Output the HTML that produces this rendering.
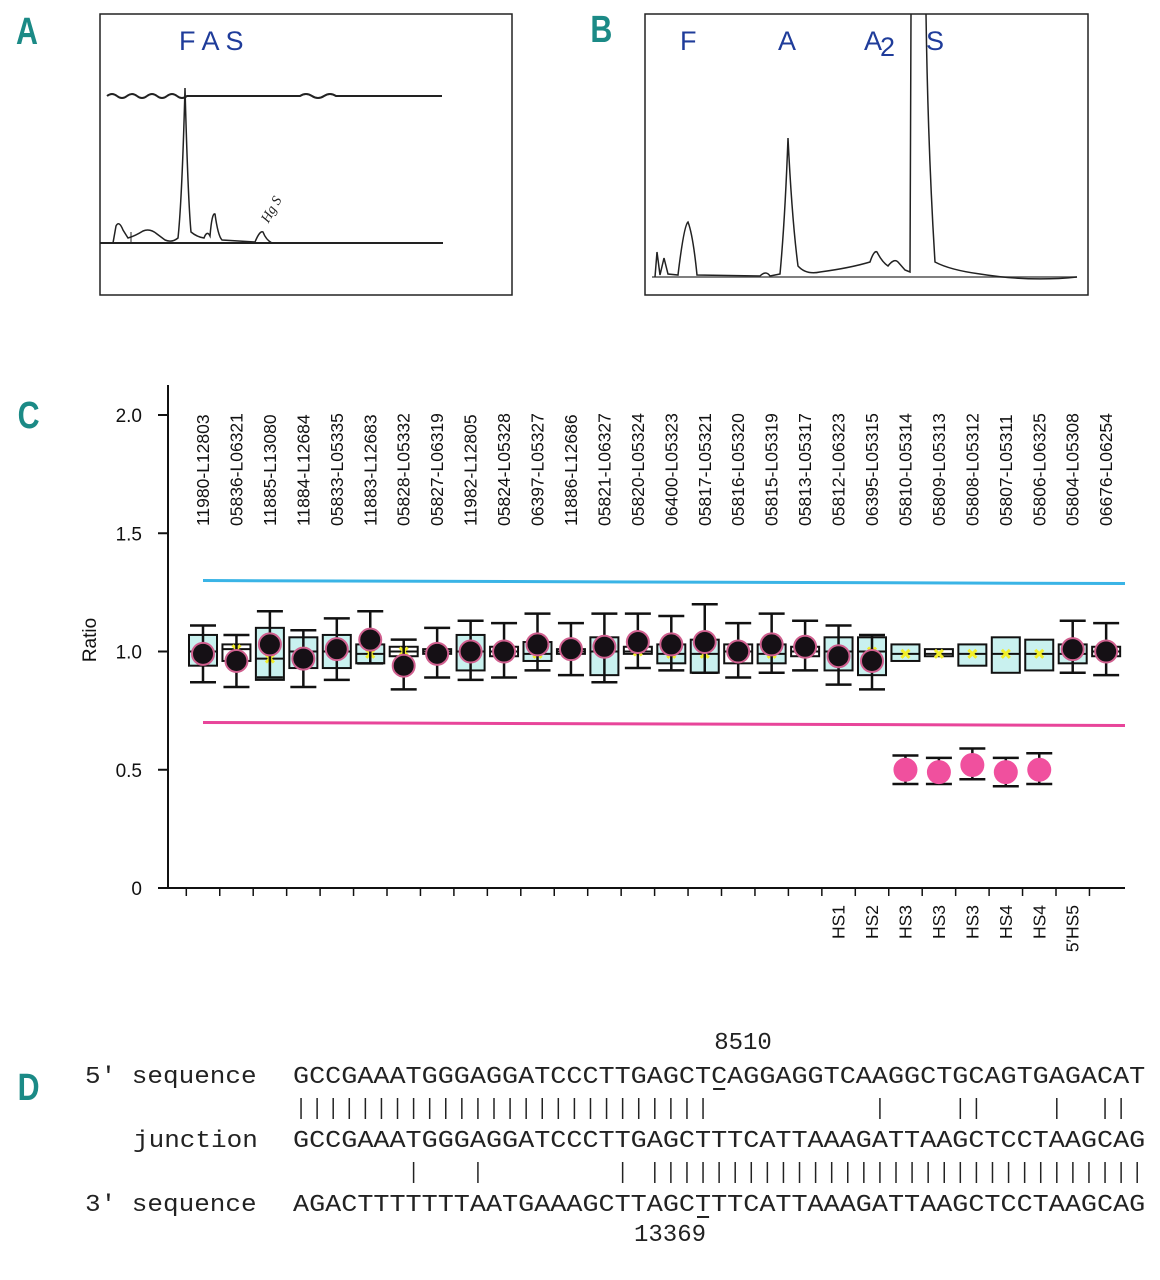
<!DOCTYPE html>
<html><head><meta charset="utf-8"><style>
html,body{margin:0;padding:0;background:#fff;}
svg{display:block;}
.pl{font-family:"Liberation Sans",sans-serif;font-weight:bold;fill:#1b8a86;font-size:38px;}
.hb{font-family:"Liberation Sans",sans-serif;fill:#1f3c9a;font-size:27px;}
.mono{font-family:"Liberation Mono",monospace;fill:#222;font-size:24px;}
.ax{font-family:"Liberation Sans",sans-serif;fill:#111;font-size:19px;}
.cl{font-family:"Liberation Sans",sans-serif;fill:#111;font-size:17.5px;}
</style></head><body>
<svg id="fig" width="1160" height="1280" viewBox="0 0 1160 1280">
<text class="pl" x="20" y="44" transform="scale(0.8,1)">A</text>
<text class="pl" x="738" y="42" transform="scale(0.8,1)">B</text>
<text class="pl" x="22" y="428" transform="scale(0.8,1)">C</text>
<text class="pl" x="22" y="1100" transform="scale(0.8,1)">D</text>

<g stroke="#222" fill="none">
<rect x="100" y="14" width="412" height="281" stroke-width="1.5"/>
<path d="M107 96 q5 -4 10 0 t10 0 t10 0 t10 0 t10 0 t10 0 t10 0 t10 0 L300 96 q6 -4 12 0 t12 0 t12 0 L442 96" stroke-width="2"/>
<line x1="100" y1="243" x2="443" y2="243" stroke-width="2"/>
<path d="M113 243 L116 226 Q119 220 123 230 L128 238 Q135 236 143 231 Q150 228 157 234 L165 240 Q172 243 178 238 Q182 200 185 88 Q188 200 191 232 Q197 237 204 238 Q207 230 210 236 Q212 212 215 214 Q218 236 222 240 L255 242 Q260 230 263 232 Q266 240 272 243" stroke-width="1.5"/>
<line x1="131" y1="232" x2="131" y2="243"/>
<text x="265" y="222" font-size="14" fill="#222" stroke="none" font-family="Liberation Serif" font-style="italic" transform="rotate(-60 268 220)">Hg S</text>
<text class="hb" x="179" y="50" stroke="none">F A  S</text>
</g>

<g stroke="#222" fill="none">
<rect x="645" y="14" width="443" height="281" stroke-width="1.5"/>
<path d="M652 277 L1077 277" stroke-width="1.5" stroke="#555"/>
<path d="M655 277 L657 252 L660 275 L664 258 L668 274 L678 275 Q684 225 688 222 Q693 235 697 275 L760 276 Q766 270 770 276 L780 274 Q785 220 788 138 Q792 220 798 266 Q806 275 820 272 Q850 268 870 262 Q874 250 877 252 Q882 262 888 266 Q894 258 898 262 L905 270 L910 272 L911 14 M926 14 Q928 150 935 262 Q950 270 980 274 Q1030 282 1077 277" stroke-width="1.5"/>
<text class="hb" x="680" y="50" stroke="none">F</text>
<text class="hb" x="778" y="50" stroke="none">A</text>
<text class="hb" x="864" y="50" stroke="none">A</text>
<text class="hb" x="880" y="56" stroke="none" font-size="18">2</text>
<text class="hb" x="926" y="50" stroke="none">S</text>
</g>

<g id="axes"></g>
<g id="marks"></g>
<text class="ax" transform="translate(96,640) rotate(-90)" text-anchor="middle">Ratio</text>

<g id="seq"></g>
</svg>
<script>
const NS='http://www.w3.org/2000/svg';
const labels=['11980-L12803','05836-L06321','11885-L13080','11884-L12684','05833-L05335','11883-L12683','05828-L05332','05827-L06319','11982-L12805','05824-L05328','06397-L05327','11886-L12686','05821-L06327','05820-L05324','06400-L05323','05817-L05321','05816-L05320','05815-L05319','05813-L05317','05812-L06323','06395-L05315','05810-L05314','05809-L05313','05808-L05312','05807-L05311','05806-L06325','05804-L05308','06676-L06254'];
const hsLabels=['','','','','','','','','','','','','','','','','','','','HS1','HS2','HS3','HS3','HS3','HS4','HS4','5\u2032HS5',''];
const yTicks=[0,0.5,1.0,1.5,2.0];
const yTickLabels=['0','0.5','1.0','1.5','2.0'];
const boxHi=[1.07,1.03,1.10,1.06,1.07,1.03,1.02,1.01,1.07,1.02,1.04,1.01,1.06,1.02,1.03,1.05,1.03,1.03,1.02,1.06,1.06,1.03,1.01,1.03,1.06,1.05,1.03,1.02];
const boxLo=[0.94,0.96,0.88,0.93,0.93,0.95,0.98,0.99,0.92,0.98,0.96,0.99,0.90,0.99,0.95,0.91,0.95,0.95,0.98,0.92,0.90,0.96,0.98,0.94,0.91,0.92,0.95,0.98];
const median=[1.0,1.01,0.97,1.0,1.0,0.99,1.0,1.0,1.0,1.0,0.99,1.0,1.0,1.0,0.99,0.99,1.0,0.99,1.0,1.0,1.0,0.99,0.99,0.99,0.99,0.99,0.99,1.0];
const boxFill=[1,0,1,1,1,1,0,0,1,0,1,0,1,0,1,1,0,1,0,1,1,1,0,1,1,1,1,0];
const dotVal=[0.99,0.96,1.03,0.97,1.01,1.05,0.94,0.99,1.0,1.0,1.03,1.01,1.02,1.04,1.03,1.04,1.0,1.03,1.02,0.98,0.96,0.50,0.49,0.52,0.49,0.50,1.01,1.0];
const whiskHi=[1.11,1.07,1.17,1.09,1.14,1.17,1.05,1.10,1.13,1.12,1.16,1.12,1.16,1.16,1.15,1.20,1.12,1.16,1.13,1.11,1.07,0.56,0.55,0.59,0.55,0.57,1.13,1.12];
const whiskLo=[0.87,0.85,0.89,0.85,0.88,0.95,0.84,0.89,0.88,0.89,0.92,0.90,0.87,0.93,0.92,0.91,0.89,0.91,0.92,0.86,0.84,0.44,0.44,0.46,0.43,0.44,0.91,0.90];
const deleted=[0,0,0,0,0,0,0,0,0,0,0,0,0,0,0,0,0,0,0,0,0,1,1,1,1,1,0,0];
const upperLimit=1.3, lowerLimit=0.7;

const Y=v=>888-v*236.5;
const X=i=>203+i*33.45;
function mk(tag,attrs,parent){const e=document.createElementNS(NS,tag);for(const k in attrs)e.setAttribute(k,attrs[k]);parent.appendChild(e);return e;}
const ax=document.getElementById('axes'), mg=document.getElementById('marks');
let e;
e=mk('line',{x1:168,y1:385,x2:168,y2:888,stroke:'#111','stroke-width':2},ax);


e=mk('line',{x1:168,y1:888,x2:1125,y2:888,stroke:'#111','stroke-width':2},ax);


yTicks.forEach((v,k)=>{
  mk('line',{x1:158,y1:Y(v),x2:168,y2:Y(v),stroke:'#111','stroke-width':2},ax);
  const t=mk('text',{x:142,y:Y(v)+7,'text-anchor':'end',class:'ax'},ax);t.textContent=yTickLabels[k];
  
  
});
labels.forEach((l,i)=>{
  const x=X(i);
  mk('line',{x1:x-16.7,y1:888,x2:x-16.7,y2:896,stroke:'#111','stroke-width':1.5},ax);
  const t=mk('text',{class:'cl',transform:`translate(${x+6},526) rotate(-90)`},ax);t.textContent=l;
  
  
  if(hsLabels[i]){const h=mk('text',{class:'cl','text-anchor':'end',transform:`translate(${x+6},905) rotate(-90)`},ax);h.textContent=hsLabels[i];
    
    }
});
e=mk('line',{x1:203,y1:Y(upperLimit),x2:1125,y2:Y(upperLimit)+3,stroke:'#3ab4e6','stroke-width':3},mg);


e=mk('line',{x1:203,y1:Y(lowerLimit),x2:1125,y2:Y(lowerLimit)+3,stroke:'#e8459a','stroke-width':3},mg);


labels.forEach((l,i)=>{
  const x=X(i), g=mk('g',{},mg);
  
  
  const hi=Y(boxHi[i]),lo=Y(boxLo[i]);
  mk('rect',{x:x-14,y:hi,width:28,height:Math.max(lo-hi,3),fill:boxFill[i]?'#c9f1ef':'#fff',stroke:'#111','stroke-width':2},g);
  mk('line',{x1:x-14,y1:Y(median[i]),x2:x+14,y2:Y(median[i]),stroke:'#111','stroke-width':2},g);
  const m=Y(median[i]);
  mk('path',{d:`M${x-4} ${m-4}L${x+4} ${m+4}M${x+4} ${m-4}L${x-4} ${m+4}`,stroke:'#f2ee2a','stroke-width':3},g);
  if(!deleted[i]){
    const wh=Y(whiskHi[i]),wl=Y(whiskLo[i]);
    mk('path',{d:`M${x} ${wh}V${wl}M${x-13} ${wh}H${x+13}M${x-13} ${wl}H${x+13}`,stroke:'#111','stroke-width':2.5,fill:'none'},g);
    const c=mk('circle',{cx:x,cy:Y(dotVal[i]),r:11,fill:'#151015',stroke:'#d0608f','stroke-width':2},g);
    
    
  }
});
labels.forEach((l,i)=>{
  if(!deleted[i])return;
  const x=X(i),g=mk('g',{},mg);
  
  
  const wh=Y(whiskHi[i]),wl=Y(whiskLo[i]);
  mk('path',{d:`M${x} ${wh}V${wl}M${x-13} ${wh}H${x+13}M${x-13} ${wl}H${x+13}`,stroke:'#111','stroke-width':2.5},g);
  mk('circle',{cx:x,cy:Y(dotVal[i]),r:12,fill:'#f0509e'},g);
});

const sq=document.getElementById('seq');
const seqs=['GCCGAAATGGGAGGATCCCTTGAGCTCAGGAGGTCAAGGCTGCAGTGAGACAT','GCCGAAATGGGAGGATCCCTTGAGCTTTCATTAAAGATTAAGCTCCTAAGCAG','AGACTTTTTTTAATGAAAGCTTAGCTTTCATTAAAGATTAAGCTCCTAAGCAG'];
const names=['5\u2032 sequence','junction','3\u2032 sequence'];
const nameX=[85,133,85];
const rowsY=[1083,1147,1211];
const cw=16.08, x0=293;
seqs.forEach((s,r)=>{
  const n=mk('text',{class:'mono',x:nameX[r],y:rowsY[r],textLength:names[r].length*15.6,lengthAdjust:'spacingAndGlyphs'},sq);n.textContent=names[r];
  
  
  const t=mk('text',{class:'mono',x:x0,y:rowsY[r],textLength:s.length*cw,lengthAdjust:'spacingAndGlyphs'},sq);t.textContent=s;
  
  
});
for(let r=0;r<2;r++){
  for(let i=0;i<53;i++){
    if(seqs[r][i]===seqs[r+1][i]){const x=x0+cw*(i+0.5);mk('line',{x1:x,y1:rowsY[r]+15,x2:x,y2:rowsY[r]+36,stroke:'#222','stroke-width':1.5},sq);}
  }
}
mk('line',{x1:x0+cw*26+2,y1:1089,x2:x0+cw*27-2,y2:1089,stroke:'#222','stroke-width':2},sq);
mk('line',{x1:x0+cw*25+2,y1:1217,x2:x0+cw*26-2,y2:1217,stroke:'#222','stroke-width':2},sq);
e=mk('text',{class:'mono',x:743,y:1049,'text-anchor':'middle'},sq);e.textContent='8510';


e=mk('text',{class:'mono',x:670,y:1241,'text-anchor':'middle'},sq);e.textContent='13369';


</script>
</body></html>
